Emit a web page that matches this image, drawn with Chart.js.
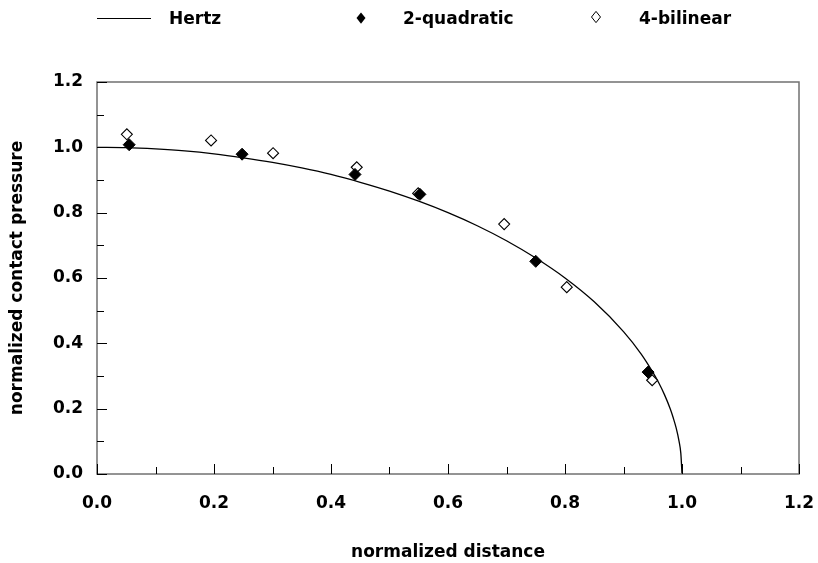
<!DOCTYPE html>
<html>
<head>
<meta charset="utf-8">
<script src="https://cdn.jsdelivr.net/npm/chart.js@4/dist/chart.umd.min.js"></script>
<style>
  html, body { margin: 0; padding: 0; background: #fff; }
  #wrap { width: 818px; height: 563px; }
</style>
</head>
<body>
<div id="wrap"><canvas id="chart" width="818" height="563"></canvas></div>
<script>
// Hertz curve
const hertzX = [0, 0.05, 0.1, 0.15, 0.2, 0.25, 0.3, 0.35, 0.4, 0.45, 0.5, 0.55, 0.6, 0.65, 0.7, 0.75, 0.8, 0.85, 0.9, 0.93, 0.95, 0.96, 0.97, 0.98, 0.985, 0.99, 0.995, 0.998, 1.0];
const hertzY = [1.0, 0.999, 0.995, 0.989, 0.98, 0.968, 0.954, 0.937, 0.917, 0.893, 0.866, 0.835, 0.8, 0.76, 0.714, 0.661, 0.6, 0.527, 0.436, 0.368, 0.312, 0.28, 0.243, 0.199, 0.172, 0.141, 0.1, 0.063, 0.0];

// 2-quadratic (filled diamonds)
const quadX = [0.055, 0.248, 0.441, 0.552, 0.750, 0.942];
const quadY = [1.008, 0.979, 0.917, 0.856, 0.651, 0.312];

// 4-bilinear (open diamonds)
const bilinX = [0.051, 0.195, 0.301, 0.444, 0.549, 0.696, 0.803, 0.949];
const bilinY = [1.040, 1.021, 0.982, 0.939, 0.859, 0.765, 0.572, 0.287];

const xTicks = [0.0, 0.2, 0.4, 0.6, 0.8, 1.0, 1.2];
const yTicks = [0.0, 0.2, 0.4, 0.6, 0.8, 1.0, 1.2];

function toPoints(xs, ys) {
  return xs.map((x, i) => ({ x: x, y: ys[i] }));
}

function isMajor(v, list) {
  return list.some(t => Math.abs(t - v) < 1e-6);
}

const FONT = "'DejaVu Sans', Verdana, sans-serif";
const axisColor = "#707070";

// Rahmen, Ticks nach innen und Legende oben
const framePlugin = {
  id: "frame",
  afterDraw(chart) {
    const ctx = chart.ctx;
    const a = chart.chartArea;
    const xs = chart.scales.x;
    const ys = chart.scales.y;
    ctx.save();
    ctx.strokeStyle = axisColor;
    ctx.lineWidth = 1.5;
    ctx.strokeRect(a.left, a.top, a.right - a.left, a.bottom - a.top);
    ctx.strokeStyle = "#000";
    ctx.lineWidth = 1;
    xs.ticks.forEach(t => {
      const px = Math.round(xs.getPixelForValue(t.value)) + 0.5;
      const major = isMajor(t.value, xTicks);
      ctx.beginPath();
      ctx.moveTo(px, a.bottom);
      ctx.lineTo(px, a.bottom - (major ? 10 : 7));
      ctx.stroke();
    });
    ys.ticks.forEach(t => {
      const py = Math.round(ys.getPixelForValue(t.value)) + 0.5;
      const major = isMajor(t.value, yTicks);
      ctx.beginPath();
      ctx.moveTo(a.left, py);
      ctx.lineTo(a.left + (major ? 10 : 7), py);
      ctx.stroke();
    });

    // Legende
    const ly = 19;
    ctx.font = "bold 17px " + FONT;
    ctx.fillStyle = "#000";
    ctx.textBaseline = "middle";
    ctx.textAlign = "left";
    ctx.strokeStyle = "#000";
    ctx.lineWidth = 1.2;
    ctx.beginPath();
    ctx.moveTo(97, ly - 0.5);
    ctx.lineTo(151, ly - 0.5);
    ctx.stroke();
    ctx.fillText("Hertz", 169, ly + 1);
    diamond(ctx, 361, ly - 1, 4.5, true);
    ctx.fillText("2-quadratic", 403, ly + 1);
    diamond(ctx, 596, ly - 2, 4.5, false);
    ctx.fillText("4-bilinear", 639, ly + 1);
    ctx.restore();
  }
};

function diamond(ctx, x, y, r, filled) {
  ctx.beginPath();
  ctx.moveTo(x, y - r * 1.25);
  ctx.lineTo(x + r, y);
  ctx.lineTo(x, y + r * 1.25);
  ctx.lineTo(x - r, y);
  ctx.closePath();
  ctx.lineWidth = 1;
  if (filled) { ctx.fill(); } else { ctx.stroke(); }
}

new Chart(document.getElementById("chart"), {
  type: "scatter",
  data: {
    datasets: [
      {
        label: "Hertz",
        data: toPoints(hertzX, hertzY),
        showLine: true,
        borderColor: "#000",
        borderWidth: 1.3,
        pointRadius: 0,
        cubicInterpolationMode: "monotone",
        order: 3
      },
      {
        label: "4-bilinear",
        data: toPoints(bilinX, bilinY),
        pointStyle: "rectRot",
        pointRadius: 5.5,
        backgroundColor: "#fff",
        borderColor: "#000",
        borderWidth: 1.1,
        order: 2
      },
      {
        label: "2-quadratic",
        data: toPoints(quadX, quadY),
        pointStyle: "rectRot",
        pointRadius: 6,
        backgroundColor: "#000",
        borderColor: "#000",
        borderWidth: 1,
        order: 1
      }
    ]
  },
  options: {
    responsive: false,
    animation: false,
    layout: { padding: { top: 82, right: 19, left: 0, bottom: 0 } },
    plugins: {
      legend: { display: false },
      tooltip: { enabled: false }
    },
    scales: {
      x: {
        type: "linear",
        min: 0,
        max: 1.2,
        border: { display: false },
        grid: { display: false },
        afterFit(scale) {
          scale.height = 89;
          scale.paddingLeft = 0;
          scale.paddingRight = 0;
        },
        ticks: {
          stepSize: 0.1,
          autoSkip: false,
          maxRotation: 0,
          padding: 11,
          color: "#000",
          font: { family: FONT, size: 17, weight: "bold" },
          callback: v => isMajor(v, xTicks) ? v.toFixed(1) : ""
        },
        title: {
          display: true,
          text: "normalized distance",
          color: "#000",
          padding: { top: 0, bottom: 0 },
          font: { family: FONT, size: 17, weight: "bold" }
        }
      },
      y: {
        type: "linear",
        min: 0,
        max: 1.2,
        border: { display: false },
        grid: { display: false },
        afterFit(scale) {
          scale.width = 97;
          scale.paddingTop = 0;
          scale.paddingBottom = 0;
        },
        ticks: {
          stepSize: 0.1,
          autoSkip: false,
          padding: 6,
          color: "#000",
          font: { family: FONT, size: 17, weight: "bold" },
          callback: v => isMajor(v, yTicks) ? v.toFixed(1) : ""
        },
        title: {
          display: true,
          text: "normalized contact pressure",
          color: "#000",
          padding: { top: 7, bottom: 0 },
          font: { family: FONT, size: 17, weight: "bold" }
        }
      }
    }
  },
  plugins: [framePlugin]
});
</script>
</body>
</html>
